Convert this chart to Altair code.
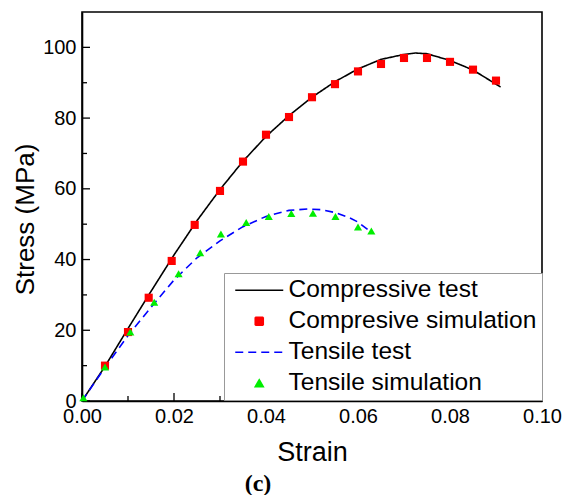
import altair as alt
import pandas as pd

# ---- data ----
series_names = ["Compressive test", "Compresive simulation", "Tensile test", "Tensile simulation"]

comp_test_strain = [0, 0.005, 0.010, 0.015, 0.020, 0.025, 0.030, 0.035, 0.040, 0.045, 0.050,
                    0.055, 0.060, 0.065, 0.070, 0.0725, 0.075, 0.080, 0.085, 0.0905, 0.091]
comp_test_stress = [0, 9.8, 20.5, 31.0, 41.3, 51.0, 59.8, 67.8, 74.8, 80.7, 85.9,
                    90.3, 93.9, 96.6, 98.0, 98.4, 98.2, 96.3, 93.6, 89.2, 88.8]

comp_sim_strain = [0.005, 0.010, 0.0145, 0.0195, 0.0245, 0.030, 0.035, 0.040, 0.045, 0.050,
                   0.055, 0.060, 0.065, 0.070, 0.075, 0.080, 0.085, 0.090]
comp_sim_stress = [10.0, 19.5, 29.2, 39.6, 49.8, 59.4, 67.7, 75.3, 80.3, 85.9,
                   89.6, 93.2, 95.3, 97.0, 97.0, 95.9, 93.7, 90.6]

tens_test_strain = [0, 0.005, 0.010, 0.015, 0.020, 0.025, 0.030, 0.035, 0.040, 0.045,
                    0.049, 0.052, 0.055, 0.058, 0.060, 0.063]
tens_test_stress = [0, 9.5, 18.5, 26.5, 34.2, 40.5, 45.3, 49.3, 52.2, 53.9,
                    54.3, 54.1, 53.3, 51.9, 50.6, 47.6]

tens_sim_strain = [0.0003, 0.005, 0.0105, 0.0157, 0.021, 0.0257, 0.0302, 0.0357, 0.0406,
                   0.0455, 0.0502, 0.0551, 0.060, 0.0629]
tens_sim_stress = [0.9, 9.6, 19.5, 27.9, 36.0, 41.9, 47.2, 50.5, 52.2,
                   53.0, 53.1, 52.2, 49.2, 48.1]

x_major = [0.0, 0.02, 0.04, 0.06, 0.08, 0.10]
x_minor = [0.01, 0.03, 0.05, 0.07, 0.09]
y_major = [0, 20, 40, 60, 80, 100]
y_minor = [10, 30, 50, 70, 90]

# ---- tables ----
lines_df = pd.concat([
    pd.DataFrame({"strain": comp_test_strain, "stress": comp_test_stress, "series": series_names[0], "order": range(len(comp_test_strain))}),
    pd.DataFrame({"strain": tens_test_strain, "stress": tens_test_stress, "series": series_names[2], "order": range(len(tens_test_strain))}),
])
points_df = pd.concat([
    pd.DataFrame({"strain": comp_sim_strain, "stress": comp_sim_stress, "series": series_names[1]}),
    pd.DataFrame({"strain": tens_sim_strain, "stress": tens_sim_stress, "series": series_names[3]}),
])
xmaj_df = pd.DataFrame({"v": x_major})
xmin_df = pd.DataFrame({"v": x_minor})
ymaj_df = pd.DataFrame({"v": y_major})
ymin_df = pd.DataFrame({"v": y_minor})

W, H = 460, 389
FONT = "Liberation Sans"

xscale = alt.Scale(domain=[0, 0.10], nice=False, zero=False)
yscale = alt.Scale(domain=[0, 110], nice=False)

LONG_LINE = "M-6,0H6"
color_scale = alt.Scale(domain=series_names, range=["#000000", "#ff0000", "#0000ff", "#00ee00"])
dash_scale = alt.Scale(domain=series_names, range=[[1, 0], [1, 0], [8, 5], [1, 0]])
shape_scale = alt.Scale(domain=series_names, range=[LONG_LINE, "square", LONG_LINE, "triangle-up"])

legend = alt.Legend(
    title=None, orient="none", legendX=142, legendY=261,
    fillColor="white", strokeColor="#999999", padding=5, symbolOffset=18,
    symbolSize=64,
    labelFont=FONT, labelFontSize=24.5, labelColor="black",
    symbolStrokeWidth=1.6, rowPadding=6, labelOffset=17, labelLimit=400,
)

xaxis = alt.Axis(values=x_major, format=".2f", ticks=False, grid=False, title="Strain",
                 labelPadding=5, titlePadding=13, labelFlush=False, titleFontSize=27)
yaxis = alt.Axis(values=y_major, format="d", ticks=False, grid=False, title="Stress (MPa)",
                 labelPadding=6, titleX=-44, titleY=207, titleFontSize=26)

lines = alt.Chart(lines_df).mark_line(strokeWidth=1.6).encode(
    x=alt.X("strain:Q", scale=xscale, axis=xaxis),
    y=alt.Y("stress:Q", scale=yscale, axis=yaxis),
    color=alt.Color("series:N", scale=color_scale, legend=legend),
    strokeDash=alt.StrokeDash("series:N", scale=dash_scale, legend=legend),
    order="order:Q",
)

points = alt.Chart(points_df).mark_point(filled=True, opacity=1, size=66).encode(
    x=alt.X("strain:Q", scale=xscale),
    y=alt.Y("stress:Q", scale=yscale),
    color=alt.Color("series:N", scale=color_scale, legend=legend),
    shape=alt.Shape("series:N", scale=shape_scale, legend=legend),
)

xt_major = alt.Chart(xmaj_df).mark_rule(color="black", strokeWidth=1.3).encode(
    x=alt.X("v:Q", scale=xscale), y=alt.value(H), y2=alt.value(H - 8))
xt_minor = alt.Chart(xmin_df).mark_rule(color="black", strokeWidth=1.3).encode(
    x=alt.X("v:Q", scale=xscale), y=alt.value(H), y2=alt.value(H - 5))
yt_major = alt.Chart(ymaj_df).mark_rule(color="black", strokeWidth=1.3).encode(
    y=alt.Y("v:Q", scale=yscale), x=alt.value(0), x2=alt.value(8))
yt_minor = alt.Chart(ymin_df).mark_rule(color="black", strokeWidth=1.3).encode(
    y=alt.Y("v:Q", scale=yscale), x=alt.value(0), x2=alt.value(5))

chart = alt.layer(xt_major, xt_minor, yt_major, yt_minor, lines, points).properties(
    width=W, height=H,
    autosize="none",
    padding={"left": 82, "top": 12, "right": 22, "bottom": 94},
    background="white",
    title=alt.TitleParams(text="(c)", orient="bottom", anchor="middle", dx=-54, offset=7,
                          font="Liberation Serif", fontSize=24, fontWeight="bold", color="black"),
).configure_view(
    stroke="black", strokeWidth=1.6
).configure_axis(
    labelFont=FONT, labelFontSize=20, labelColor="black",
    titleFont=FONT, titleFontWeight="normal", titleColor="black",
    domainColor="black", domainWidth=1.6,
)

chart.save("out.html", embed_options={"renderer": "svg", "actions": False})
